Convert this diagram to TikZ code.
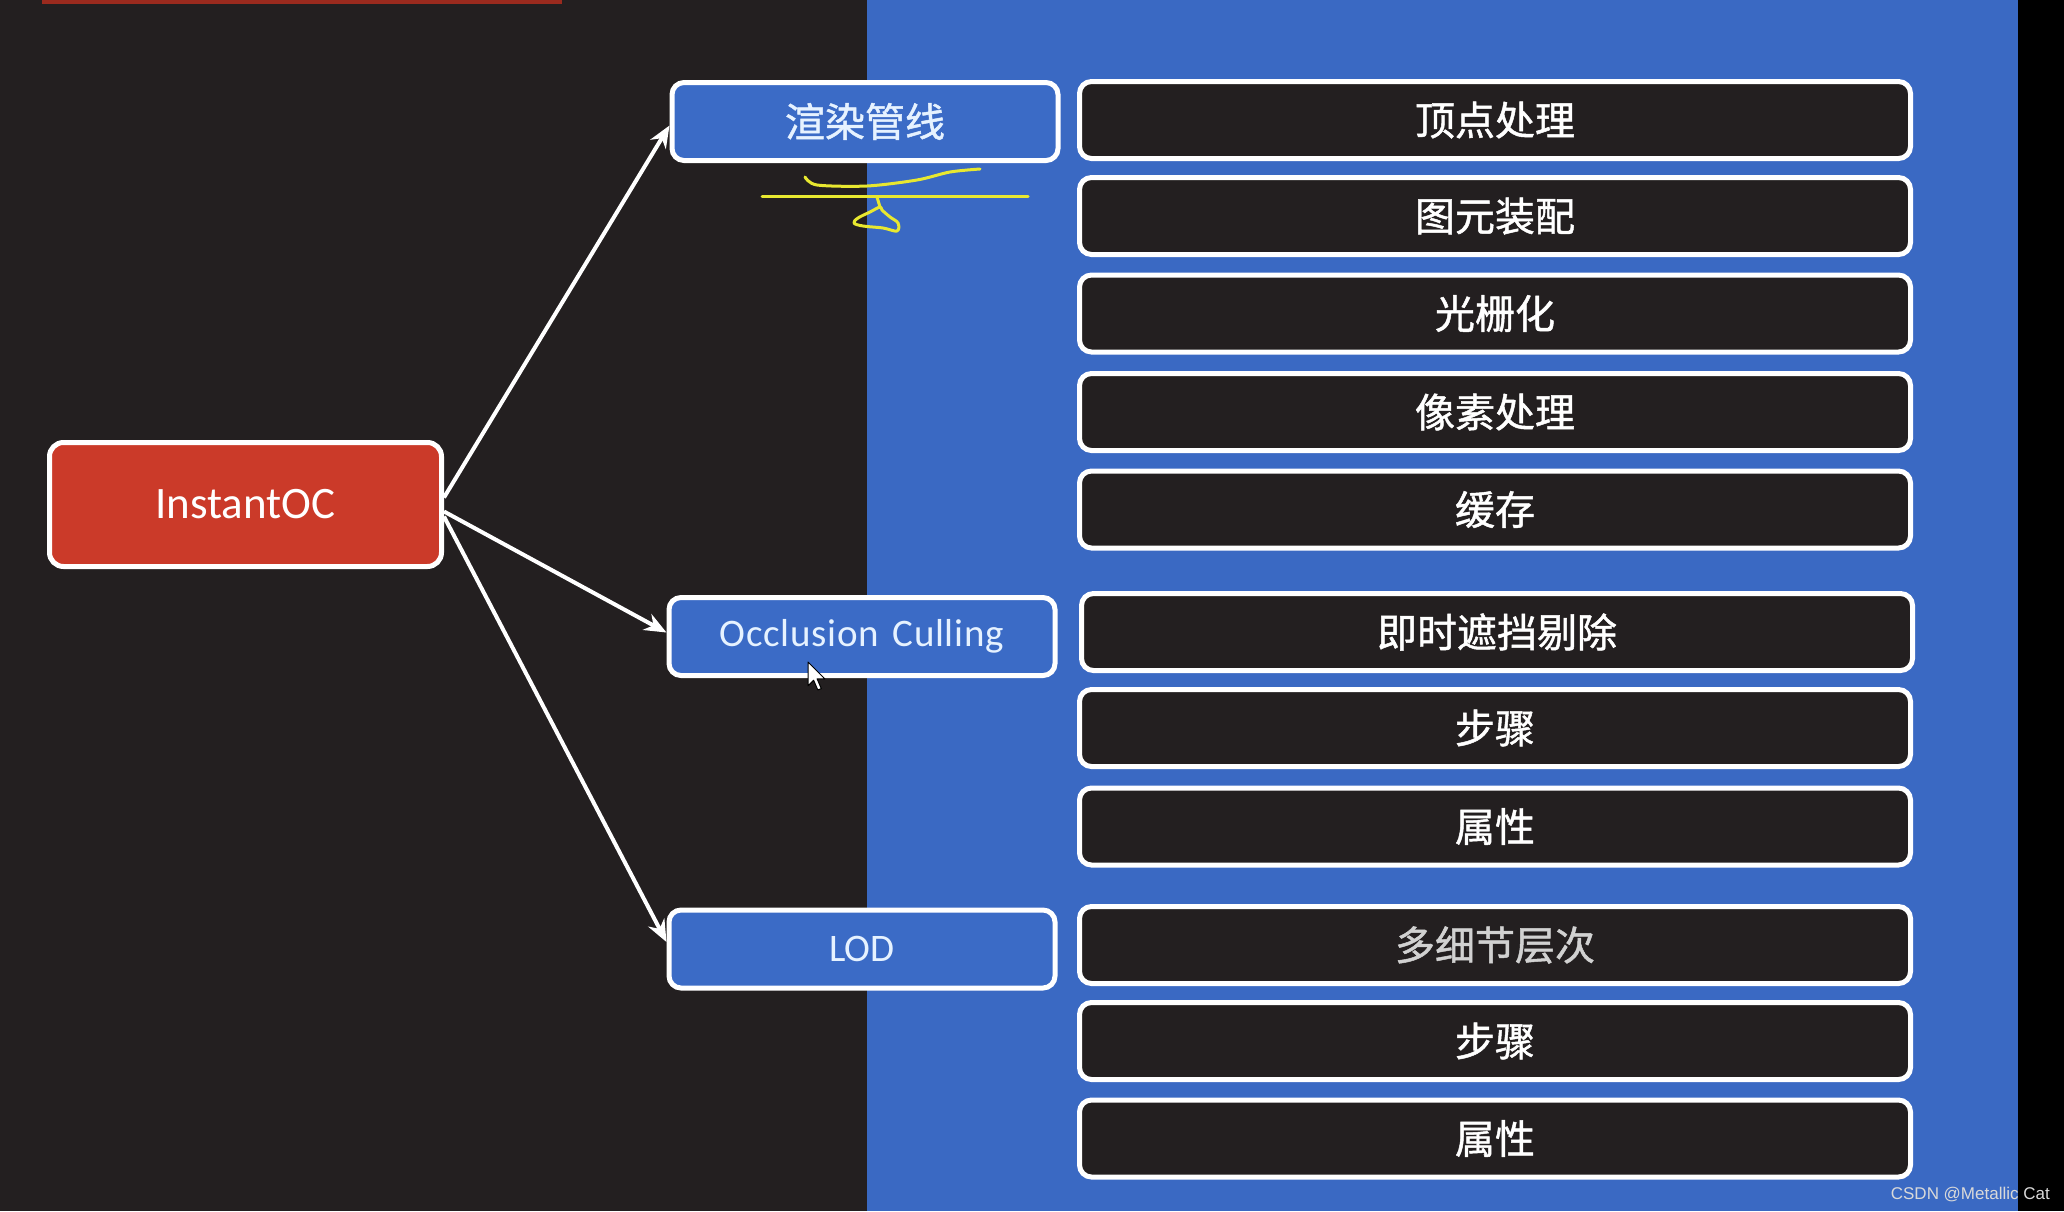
\documentclass[tikz,border=0pt]{standalone}
\usepackage{fontspec}
\setmainfont{Carlito}
\newfontfamily\cjk[FakeBold=1.2]{Noto Sans CJK SC}
\newfontfamily\wmfont{Liberation Sans}
\usetikzlibrary{arrows.meta}
\definecolor{darkbg}{HTML}{231F20}
\definecolor{bluebg}{HTML}{3A69C3}
\definecolor{boxblue}{HTML}{3B6BC6}
\definecolor{boxred}{HTML}{CB3A29}
\definecolor{barred}{HTML}{9A2A1E}
\definecolor{hlyellow}{HTML}{E8E830}
\definecolor{textblue}{HTML}{E6F2FF}
\begin{document}
\begin{tikzpicture}[x=1pt,y=-1pt,
  rbox/.style={draw=white, line width=5pt, rounded corners=12pt, fill=darkbg,
    minimum width=831pt, minimum height=77pt, inner sep=0pt, text=white,
    font=\cjk\fontsize{40}{48}\selectfont},
  bbox/.style={draw=white, line width=5pt, rounded corners=12pt, fill=boxblue,
    minimum width=386pt, minimum height=78pt, inner sep=0pt, text=textblue,
    font=\fontsize{39}{46}\selectfont},
  redbox/.style={draw=white, line width=5pt, rounded corners=14pt, fill=boxred,
    minimum width=392pt, minimum height=124pt, inner sep=0pt, text=white,
    font=\fontsize{45}{54}\selectfont},
  arr/.style={draw=white, line width=4pt, -{Stealth[length=22pt,width=18pt]}},
  yel/.style={draw=hlyellow, line width=3pt, line cap=round, line join=round}
]
\useasboundingbox (0,0) rectangle (2064,1211);
% backgrounds
\fill[darkbg] (0,0) rectangle (867,1211);
\fill[bluebg] (867,0) rectangle (2018,1211);
\fill[black] (2018,0) rectangle (2064,1211);
\fill[barred] (42,0) rectangle (562,4);

% root
\node[redbox] (io) at (245.5,504.5) {InstantOC};

% second level
\node[bbox, font=\cjk\fontsize{40}{48}\selectfont] (rp) at (865,121.5) {渲染管线};
\node[bbox, text width=350pt, align=center] (oc) at (862,636.5) {\addfontfeatures{LetterSpace=2}Occlusion Culling};
\node[bbox] (lod) at (862,949) {LOD};

% third level
\node[rbox] (r1) at (1495,120) {顶点处理};
\node[rbox] (r2) at (1495,216) {图元装配};
\node[rbox] (r3) at (1495,313.5) {光栅化};
\node[rbox] (r4) at (1495,412) {像素处理};
\node[rbox] (r5) at (1495,509.5) {缓存};
\node[rbox] (r6) at (1497,632) {即时遮挡剔除};
\node[rbox] (r7) at (1495,728) {步骤};
\node[rbox] (r8) at (1495,826.5) {属性};
\node[rbox, text=white!82!black] (r9) at (1495,945) {多细节层次};
\node[rbox] (r10) at (1495,1041) {步骤};
\node[rbox] (r11) at (1495,1138.5) {属性};

% arrows
\draw[arr] ([yshift=7pt]io.east) -- ([yshift=-4pt]rp.west);
\draw[arr] ([yshift=-7pt]io.east) -- ([yshift=4pt]oc.west);
\draw[arr] ([yshift=-12pt]io.east) -- ([yshift=7pt]lod.west);

% yellow handwriting
\draw[yel] plot[smooth] coordinates {(805,177) (817,185) (867,186) (917,180) (950,172) (980,169)};
\draw[yel] (762,196) -- (1028,196);
\draw[yel] (877,197) -- (880,207);
\draw[yel] plot[smooth cycle, tension=0.6] coordinates {(880,207) (870,212) (858,218) (854,223) (863,226) (883,228) (897,231) (898,223) (890,217) (882,210)};

% mouse cursor
\draw[black, fill=white, line width=1pt, line join=round, shift={(808,662)}, scale=1.4]
  (0,0) -- (0,17) -- (4,13) -- (7,20) -- (9.5,19) -- (6.5,12) -- (12,12) -- cycle;

% watermark
\node[anchor=east, inner sep=0pt, text=white!85!black, font=\wmfont\fontsize{17}{20}\selectfont] (wm) at (2050,1194) {CSDN @Metallic Cat};
\end{tikzpicture}
\end{document}
